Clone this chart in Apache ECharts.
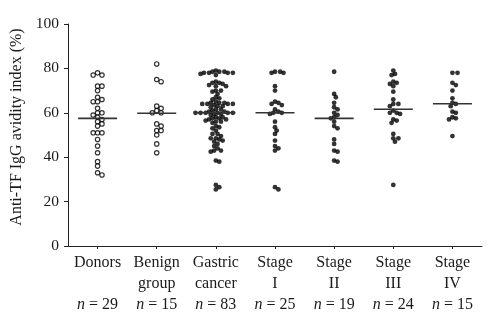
<!DOCTYPE html>
<html><head><meta charset="utf-8">
<script src="https://cdn.jsdelivr.net/npm/echarts@6/dist/echarts.min.js"></script>
<style>html,body{margin:0;padding:0;background:#fff}#c{width:500px;height:328px}</style>
</head><body><div id="c"></div>
<script>
// ---- data ----
const categories = ['Donors', 'Benign\ngroup', 'Gastric\ncancer', 'Stage\nI', 'Stage\nII', 'Stage\nIII', 'Stage\nIV'];
const donors = [78, 77, 77, 72, 72, 70, 67, 66, 65, 65, 62, 60, 60, 59, 58, 57, 56, 55, 54, 51, 51, 51, 48, 45, 42, 38, 36, 33, 32];
const benign = [82, 75, 74, 63, 62, 61, 60, 60, 55, 54, 52, 52, 50, 46, 42];
const stageI = [78.5, 78.5, 78, 78, 72, 70, 65, 64.5, 64, 63.5, 61.5, 60.5, 60, 60, 59.5, 56, 53.5, 52, 50.5, 47.5, 45, 44, 43, 26.5, 25.5];
const stageII = [78.5, 68.5, 67, 64.5, 62.5, 61.5, 60, 59, 58, 57.5, 56, 54, 53, 48, 46, 43, 42.5, 38.5, 38];
const stageIII = [79, 77.5, 77, 74, 73.5, 73, 72, 69.5, 66, 64, 64, 63, 61, 60, 60, 59.5, 57, 56.5, 55.5, 50.5, 48.5, 48.5, 47, 27.5];
const stageIV = [78, 78, 73.5, 72.5, 70, 66.5, 64.5, 64, 63, 60.5, 60, 58, 57.5, 57, 49.5];
const gastric = [].concat(stageI, stageII, stageIII, stageIV); // all cancer patients
const groups = [donors, benign, gastric, stageI, stageII, stageIII, stageIV];
const openMarker = [true, true, false, false, false, false, false];
const meanLines = [57.5, 59.8, 60.0, 60.0, 57.5, 61.6, 64.1];
const yMin = 0, yMax = 100, yStep = 20;
const yName = 'Anti-TF IgG avidity index (%)';

// ---- chart ----
const FONT = '"Liberation Serif", "DejaVu Serif", serif';
const labels = categories.map((c, i) => {
  const lines = c.split('\n');
  if (lines.length === 1) lines.push(' ');
  return lines.join('\n') + '\n{i|n} = ' + groups[i].length;
});

const chart = echarts.init(document.getElementById('c'), null, {renderer: 'canvas'});
const base = {
  animation: false,
  backgroundColor: '#fff',
  grid: {left: 68, right: 18, top: 24, bottom: 82, containLabel: false},
  xAxis: [{
    type: 'category', data: labels, gridIndex: 0, position: 'bottom',
    boundaryGap: true,
    axisLine: {onZero: false, lineStyle: {color: '#222', width: 1}},
    axisTick: {show: true, alignWithLabel: true, length: 3, lineStyle: {color: '#222'}},
    axisLabel: {
      interval: 0, margin: 6, color: '#1a1a1a', fontFamily: FONT, fontSize: 16, lineHeight: 21,
      rich: {i: {fontStyle: 'italic', fontFamily: FONT, fontSize: 16, lineHeight: 21, color: '#1a1a1a'}}
    },
    splitLine: {show: false}
  }, {
    type: 'value', gridIndex: 0, min: -0.5, max: categories.length - 0.5, show: false
  }],
  yAxis: [{
    type: 'value', min: yMin, max: yMax, interval: yStep,
    name: yName, nameLocation: 'middle', nameGap: 41,
    nameTextStyle: {fontFamily: FONT, fontSize: 16, color: '#1a1a1a', padding: [0, 0, 0, 16]},
    axisLine: {show: true, onZero: false, lineStyle: {color: '#222', width: 1}},
    axisTick: {show: true, length: 4, lineStyle: {color: '#222'}},
    axisLabel: {margin: 9, color: '#1a1a1a', fontFamily: FONT, fontSize: 15.5},
    splitLine: {show: false}
  }],
  series: []
};
chart.setOption(base);

const pxPerX = chart.convertToPixel({xAxisIndex: 1}, 1) - chart.convertToPixel({xAxisIndex: 1}, 0);
const pxPerY = chart.convertToPixel({yAxisIndex: 0}, 0) - chart.convertToPixel({yAxisIndex: 0}, 1);

// simple beeswarm layout in pixel space
function swarm(vals, d, step) {
  const order = vals.map((v, i) => i).sort((a, b) => vals[b] - vals[a]);
  const placed = [];
  const off = new Array(vals.length);
  for (const i of order) {
    const y = vals[i] * pxPerY;
    for (let k = 0; k < 200; k++) {
      const cand = k === 0 ? 0 : (k % 2 ? 1 : -1) * Math.ceil(k / 2) * step;
      if (placed.every(p => Math.hypot(p.x - cand, p.y - y) >= d)) {
        off[i] = cand; placed.push({x: cand, y: y}); break;
      }
    }
  }
  return off;
}

const series = [];
groups.forEach((vals, gi) => {
  const open = openMarker[gi];
  const off = swarm(vals, open ? 4.4 : 3.5, open ? 2.2 : 1.7);
  series.push({
    type: 'scatter', xAxisIndex: 1, yAxisIndex: 0,
    symbol: 'circle', symbolSize: open ? 4.4 : 4.8,
    itemStyle: open ? {color: '#fff', borderColor: '#000', borderWidth: 1.2} : {color: '#000'},
    data: vals.map((v, i) => [gi + off[i] / pxPerX, v]),
    z: 2
  });
});
series.push({
  type: 'custom', xAxisIndex: 1, yAxisIndex: 0, z: 3,
  data: meanLines.map((m, i) => [i, m]),
  renderItem: (params, api) => {
    const c = api.coord([api.value(0), api.value(1)]);
    return {type: 'line', shape: {x1: c[0] - 19.5, y1: c[1], x2: c[0] + 19.5, y2: c[1]},
            style: {stroke: '#333', lineWidth: 1.6}};
  }
});
chart.setOption({series: series});
</script></body></html>
